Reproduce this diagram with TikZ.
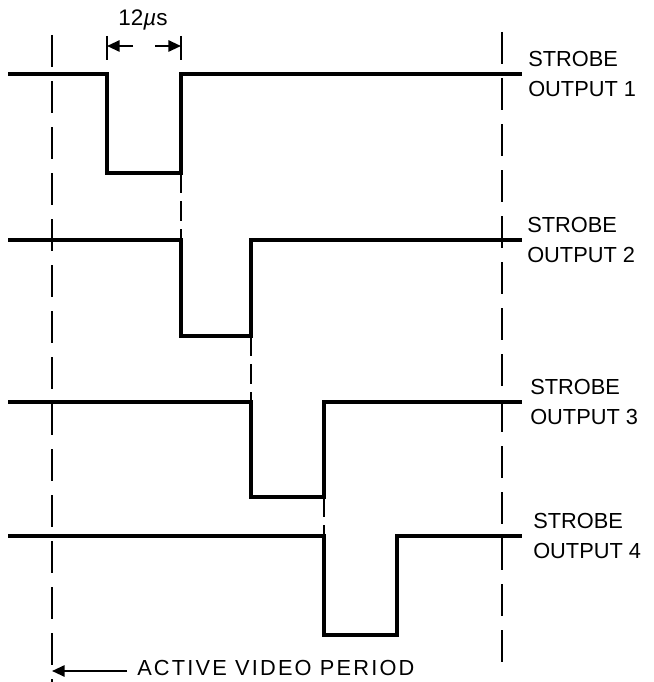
\documentclass[tikz,border=0pt]{standalone}
\usepackage{fontspec}
\setmainfont{Liberation Sans}
\usetikzlibrary{arrows.meta}

\begin{document}
\begin{tikzpicture}[x=0.025cm, y=-0.025cm,
  wave/.style={line width=2.2pt, line join=miter},
  period/.style={line width=1.5pt, dash pattern=on 0.8cm off 0.35cm},
  edge/.style={line width=1.5pt, dash pattern=on 0.5cm off 0.2cm},
  lbl/.style={anchor=west, align=left, inner sep=0pt, font=\fontsize{15.5}{21}\selectfont},
  tip/.style={-{Triangle[length=9pt,width=8pt]}, line width=1.5pt}]
\useasboundingbox (0,0) rectangle (653,682);

% Active video period
\draw[period] (52,35) -- (52,682);
\draw[period] (502,32) -- (502,663);

% Strobe outputs
\foreach \n/\y/\lo/\a/\b/\lx in {1/74/173/107/181/528, 2/240/336/181/251/527, 3/402/497/251/324/530, 4/536/635/324/397/533} {
  \draw[wave] (8,\y) -- (\a,\y) -- (\a,\lo) -- (\b,\lo) -- (\b,\y) -- (522,\y);
  \node[lbl] (strobe\n) at (\lx,\y) {STROBE\\OUTPUT \n};
}

% Edges carried down
\draw[edge] (181,173) -- (181,240);
\draw[edge] (251,336) -- (251,402);
\draw[edge] (324,497) -- (324,536);

% 12us width
\coordinate (wl) at (107,46);
\coordinate (wr) at (181,46);
\draw[line width=1.5pt] (107,36) -- (107,60) (181,36) -- (181,60);
\draw[tip] (133,46) -- (wl);
\draw[tip] (155,46) -- (wr);
\node[font=\fontsize{16}{18}\selectfont] (width) at (143,20) {12\textit{µ}s};

% Bottom label
\coordinate (av) at (52,671);
\node[lbl, font=\fontsize{15.5}{18}\selectfont\addfontfeature{LetterSpace=10}] (active) at (137,668) {ACTIVE VIDEO PERIOD};
\draw[tip] (active.west) ++(-10,3) -- (av);
\end{tikzpicture}
\end{document}
